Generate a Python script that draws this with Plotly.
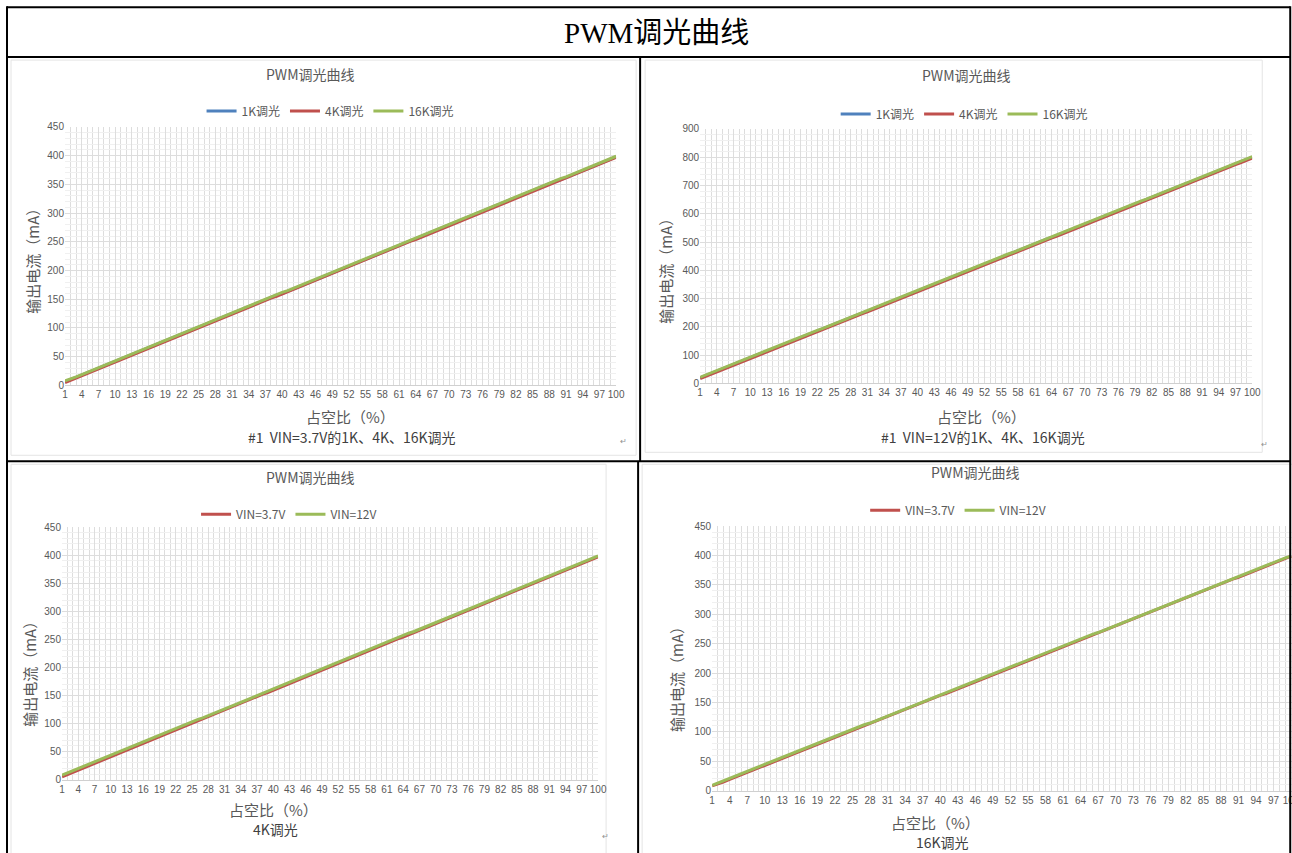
import plotly.graph_objects as go

# Positions below are given in the reference picture's pixels and mapped onto the
# figure; the mapping makes up for the small offset/scale seen in the rendered shot.
FW, FH = 1301, 858
SX, SY = 0.9906, 0.988
AX, AY = 3.0, 5.8


def X(r):
    return ((r - AX) / SX) / FW


def Y(r):
    return 1 - ((r - AY) / SY) / FH


# ---------------- data ----------------
duty = list(range(1, 101))
x_tick_vals = list(range(1, 101, 3))

# VIN = 3.7V
s37_1k = [6, 10, 14, 18, 22, 26, 30, 34, 38, 42,
          46, 50, 54, 58, 61, 65, 69, 73, 77, 81,
          85, 89, 93, 97, 101, 105, 109, 113, 117, 121,
          125, 129, 133, 137, 141, 145, 149, 153, 157, 160,
          164, 168, 172, 176, 180, 184, 188, 192, 196, 200,
          204, 208, 212, 216, 220, 224, 228, 232, 236, 240,
          244, 248, 252, 256, 259, 263, 267, 271, 275, 279,
          283, 287, 291, 295, 299, 303, 307, 311, 315, 319,
          323, 327, 331, 335, 339, 343, 347, 351, 355, 358,
          362, 366, 370, 374, 378, 382, 386, 390, 394, 398]
s37_4k = [5, 9, 13, 17, 21, 25, 29, 32, 37, 41,
          45, 49, 53, 56, 60, 64, 68, 72, 76, 80,
          84, 88, 92, 97, 100, 104, 108, 112, 116, 120,
          124, 128, 132, 136, 140, 144, 148, 152, 155, 159,
          163, 167, 171, 175, 179, 184, 187, 191, 195, 199,
          203, 207, 211, 215, 219, 223, 227, 231, 235, 239,
          243, 247, 251, 254, 258, 262, 265, 270, 274, 278,
          282, 286, 290, 294, 298, 302, 306, 310, 314, 318,
          321, 326, 330, 334, 338, 342, 346, 350, 353, 357,
          361, 365, 370, 373, 377, 381, 385, 389, 393, 397]
s37_16k = [8, 11, 15, 19, 23, 27, 31, 35, 39, 43,
           47, 51, 55, 59, 63, 66, 70, 74, 78, 82,
           86, 90, 94, 98, 102, 106, 110, 114, 118, 122,
           126, 130, 134, 138, 142, 146, 150, 154, 158, 162,
           165, 169, 173, 177, 181, 185, 189, 193, 197, 201,
           205, 209, 213, 217, 221, 225, 229, 233, 237, 241,
           245, 249, 253, 257, 261, 264, 268, 272, 276, 280,
           284, 288, 292, 296, 300, 304, 308, 312, 316, 320,
           324, 328, 332, 336, 340, 344, 348, 352, 356, 360,
           363, 367, 371, 375, 379, 383, 387, 391, 395, 399]

# VIN = 12V (chart #1, 0-900 scale)
s12_1k = [20, 28, 36, 44, 52, 59, 67, 75, 83, 91,
          99, 107, 115, 122, 130, 138, 146, 154, 162, 170,
          178, 185, 193, 201, 209, 217, 225, 233, 241, 249,
          256, 264, 272, 280, 288, 296, 304, 312, 319, 327,
          335, 343, 351, 359, 367, 375, 382, 390, 398, 406,
          414, 422, 430, 438, 446, 453, 461, 469, 477, 485,
          493, 501, 509, 516, 524, 532, 540, 548, 556, 564,
          572, 579, 587, 595, 603, 611, 619, 627, 635, 643,
          650, 658, 666, 674, 682, 690, 698, 706, 713, 721,
          729, 737, 745, 753, 761, 769, 776, 784, 792, 800]
s12_4k = [17, 25, 33, 41, 49, 57, 64, 72, 80, 88,
          96, 104, 112, 120, 127, 135, 143, 151, 159, 167,
          175, 183, 190, 198, 206, 214, 222, 230, 238, 246,
          253, 261, 269, 277, 285, 293, 301, 309, 317, 324,
          332, 340, 348, 356, 364, 372, 380, 387, 395, 403,
          411, 419, 427, 435, 443, 451, 458, 466, 474, 482,
          490, 498, 506, 514, 521, 529, 537, 545, 553, 561,
          569, 577, 584, 592, 600, 608, 616, 624, 632, 640,
          647, 655, 663, 671, 679, 687, 695, 703, 711, 718,
          726, 734, 742, 750, 758, 766, 774, 781, 789, 797]
s12_16k = [22, 30, 38, 46, 54, 62, 69, 77, 85, 93,
           101, 109, 117, 125, 132, 140, 148, 156, 164, 172,
           180, 188, 195, 203, 211, 219, 227, 235, 243, 251,
           258, 266, 274, 282, 290, 298, 306, 314, 322, 329,
           337, 345, 353, 361, 369, 377, 385, 392, 400, 408,
           416, 424, 432, 440, 448, 456, 463, 471, 479, 487,
           495, 503, 511, 519, 526, 534, 542, 550, 558, 566,
           574, 582, 589, 597, 605, 613, 621, 629, 637, 645,
           652, 660, 668, 676, 684, 692, 700, 708, 716, 723,
           731, 739, 747, 755, 763, 771, 779, 786, 794, 802]

# VIN = 12V (4K / 16K comparison charts, 0-450 scale)
s12_4k_cmp = [8, 12, 16, 20, 24, 28, 32, 35, 39, 43,
              47, 51, 55, 59, 63, 67, 71, 75, 79, 83,
              87, 91, 95, 99, 103, 107, 110, 114, 118, 122,
              126, 130, 134, 138, 142, 146, 150, 154, 158, 162,
              166, 170, 174, 178, 182, 186, 189, 193, 197, 201,
              205, 209, 213, 217, 221, 225, 229, 233, 237, 241,
              245, 249, 253, 257, 261, 264, 268, 272, 276, 280,
              284, 288, 292, 296, 300, 304, 308, 312, 316, 320,
              324, 328, 332, 336, 340, 343, 347, 351, 355, 359,
              363, 367, 371, 375, 379, 383, 387, 391, 395, 399]
s12_16k_cmp = [9, 13, 17, 21, 25, 29, 33, 37, 41, 44,
               48, 52, 56, 60, 64, 68, 72, 76, 80, 84,
               88, 92, 96, 100, 104, 108, 112, 115, 119, 123,
               127, 131, 135, 139, 143, 147, 151, 155, 159, 163,
               167, 171, 175, 179, 183, 187, 190, 194, 198, 202,
               206, 210, 214, 218, 222, 226, 230, 234, 238, 242,
               246, 250, 254, 258, 262, 266, 269, 273, 277, 281,
               285, 289, 293, 297, 301, 305, 309, 313, 317, 321,
               325, 329, 333, 337, 341, 345, 348, 352, 356, 360,
               364, 368, 372, 376, 380, 384, 388, 392, 396, 399]

# ---------------- text ----------------
page_title = "PWM调光曲线"
chart_title = "PWM调光曲线"
y_title = "输出电流（mA）"
x_title = "占空比（%）"
captions = ["#1  VIN=3.7V的1K、4K、16K调光", "#1  VIN=12V的1K、4K、16K调光", "4K调光", "16K调光"]

# ---------------- style ----------------
BLUE, RED, GREEN = "#4F81BD", "#C0504D", "#9BBB59"
GRID = "#DDDDDD"
MINOR = "#F0F0F0"
TXT = "#595959"
CJK = "Noto Sans CJK SC"
LW = 3

fig = go.Figure()


def add_line(xa, ya, yv, name, color, legend):
    fig.add_trace(go.Scatter(x=duty, y=yv, name=name, mode="lines",
                             line=dict(color=color, width=LW),
                             xaxis=xa, yaxis=ya, legend=legend,
                             hoverinfo="x+y+name"))


add_line("x", "y", s37_1k, "1K调光", BLUE, "legend")
add_line("x", "y", s37_4k, "4K调光", RED, "legend")
add_line("x", "y", s37_16k, "16K调光", GREEN, "legend")

add_line("x2", "y2", s12_1k, "1K调光", BLUE, "legend2")
add_line("x2", "y2", s12_4k, "4K调光", RED, "legend2")
add_line("x2", "y2", s12_16k, "16K调光", GREEN, "legend2")

add_line("x3", "y3", s37_4k, "VIN=3.7V", RED, "legend3")
add_line("x3", "y3", s12_4k_cmp, "VIN=12V", GREEN, "legend3")

add_line("x4", "y4", s37_16k, "VIN=3.7V", RED, "legend4")
add_line("x4", "y4", s12_16k_cmp, "VIN=12V", GREEN, "legend4")


def xaxis(x0, x1, anchor, xmax=100):
    return dict(domain=[X(x0), min(1.0, X(x1))], range=[1, xmax], anchor=anchor,
                tickmode="array", tickvals=x_tick_vals,
                ticktext=[str(v) for v in x_tick_vals],
                showgrid=True, gridcolor=GRID, gridwidth=1,
                minor=dict(tickmode="linear", tick0=1, dtick=1, showgrid=True,
                           gridcolor=GRID, gridwidth=1),
                showline=True, linecolor="#D0D0D0", linewidth=1,
                ticks="", zeroline=False, fixedrange=True,
                tickfont=dict(size=10, color=TXT, family="Liberation Sans"),
                tickangle=0)


def yaxis(top, bot, ymax, dt, mdt, anchor):
    return dict(domain=[Y(bot), Y(top)], range=[0, ymax], anchor=anchor,
                tick0=0, dtick=dt, showgrid=True, gridcolor=GRID, gridwidth=1,
                minor=dict(tick0=0, dtick=mdt, showgrid=True, gridcolor=MINOR,
                           gridwidth=1),
                showline=False, ticks="", zeroline=False, fixedrange=True,
                tickfont=dict(size=10, color=TXT, family="Liberation Sans"))


def legend(xc, yc):
    return dict(x=X(xc), y=Y(yc), xanchor="center", yanchor="middle",
                orientation="h", bgcolor="rgba(0,0,0,0)", itemwidth=30,
                font=dict(size=12, color=TXT, family=CJK), traceorder="normal",
                itemclick=False, itemdoubleclick=False)


annotations = []


def ann(text, xc, yc, size, color=TXT, family=CJK, angle=0):
    annotations.append(dict(text=text, x=X(xc), y=Y(yc), xref="paper", yref="paper",
                            showarrow=False, xanchor="center", yanchor="middle",
                            textangle=angle,
                            font=dict(size=size, color=color, family=family)))


ann(page_title, 656, 33, 29, color="#000000", family="Liberation Serif, " + CJK)

# chart 1 (top-left)
ann(chart_title, 310, 74, 14)
ann(y_title, 33, 258, 15, angle=-90)
ann(x_title, 350, 417, 15)
ann(captions[0], 352, 438, 14, color="#404040")
ann("↵", 623, 441, 8, color="#909090")
# chart 2 (top-right)
ann(chart_title, 966, 75, 14)
ann(y_title, 666, 268, 15, angle=-90)
ann(x_title, 981, 417, 15)
ann(captions[1], 983, 438, 14, color="#404040")
ann("↵", 1264, 444, 8, color="#909090")
# chart 3 (bottom-left)
ann(chart_title, 310, 478, 14)
ann(y_title, 30, 672, 15, angle=-90)
ann(x_title, 273, 811, 15)
ann(captions[2], 275, 830, 14, color="#404040")
ann("↵", 605, 837, 8, color="#909090")
# chart 4 (bottom-right)
ann(chart_title, 975, 473, 14)
ann(y_title, 677, 677, 15, angle=-90)
ann(x_title, 935, 824, 15)
ann(captions[3], 942, 843, 14, color="#404040")

shapes = []


def line(x0, y0, x1, y1, color="#000000", width=2, layer="above"):
    shapes.append(dict(type="line", xref="paper", yref="paper",
                       x0=X(x0), y0=Y(y0), x1=X(x1), y1=Y(y1),
                       line=dict(color=color, width=width), layer=layer))


# chart-area borders (light)
for (a, b, c, d) in [(11, 60, 636, 456), (645, 60, 1262, 453), (11, 465, 606, 870), (642, 465, 1310, 870)]:
    shapes.append(dict(type="rect", xref="paper", yref="paper",
                       x0=X(a), y0=Y(d), x1=X(c), y1=Y(b),
                       line=dict(color="#E4E4E4", width=1), fillcolor="rgba(0,0,0,0)",
                       layer="below"))

# table grid
line(7, 7, 1290, 7)
line(7, 6, 7, 870)
line(1290, 6, 1290, 870)
line(7, 57, 1290, 57)
line(640, 57, 640, 462)
line(7, 462, 1290, 462)
line(638, 462, 638, 870)

fig.update_layout(
    width=FW, height=FH, autosize=False,
    margin=dict(l=0, r=0, t=0, b=0, pad=0),
    paper_bgcolor="#FFFFFF", plot_bgcolor="#FFFFFF",
    font=dict(family=CJK, color=TXT),
    xaxis=xaxis(65, 616, "y"),
    yaxis=yaxis(127, 386, 450, 50, 10, "x"),
    xaxis2=xaxis(700, 1252, "y2"),
    yaxis2=yaxis(129, 384, 900, 100, 20, "x2"),
    xaxis3=xaxis(62, 598, "y3"),
    yaxis3=yaxis(528, 781, 450, 50, 10, "x3"),
    xaxis4=xaxis(712, 1292, "y4", xmax=1 + (1292 - 712) / 5.85),
    yaxis4=yaxis(527, 792, 450, 50, 10, "x4"),
    legend=legend(330, 111),
    legend2=legend(964, 114),
    legend3=legend(289, 515),
    legend4=legend(958, 511),
    annotations=annotations,
    shapes=shapes,
    hovermode="closest",
)

fig.write_html("out.html", config={"displayModeBar": False},
               post_script="document.body.style.margin='0';document.body.style.overflow='hidden';")
